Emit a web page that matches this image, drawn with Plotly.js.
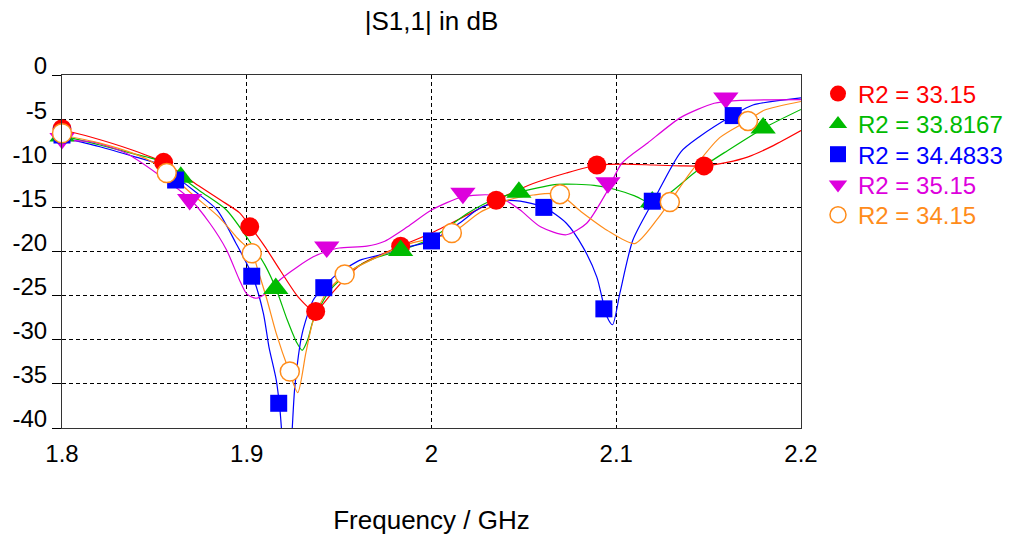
<!DOCTYPE html>
<html>
<head>
<meta charset="utf-8">
<script src="https://cdn.plot.ly/plotly-3.0.1.min.js"></script>
<style>html,body{margin:0;padding:0;background:#fff;}#chart{width:1020px;height:539px;}</style>
</head>
<body>
<div id="chart"></div>
<script>
// ---- curve data (frequency in GHz, |S11| in dB) ----
const redF = [1.800,1.815,1.838,1.855,1.875,1.886,1.896,1.902,1.910,1.918,1.928,1.937,1.945,1.954,1.963,1.972,1.983,2.000,2.018,2.035,2.055,2.073,2.090,2.105,2.120,2.135,2.148,2.160,2.171,2.185,2.200];
const redS = [-6.2,-7.0,-8.5,-9.9,-12.7,-14.2,-15.6,-17.2,-19.5,-22.1,-25.2,-26.8,-25.0,-22.9,-21.3,-20.4,-19.4,-17.9,-16.0,-14.2,-12.3,-11.1,-10.2,-10.1,-10.2,-10.3,-10.3,-9.9,-9.3,-8.0,-6.3];

const greenF = [1.800,1.820,1.840,1.851,1.864,1.875,1.889,1.903,1.910,1.916,1.922,1.927,1.930,1.933,1.936,1.945,1.957,1.970,1.983,2.000,2.020,2.035,2.047,2.068,2.088,2.100,2.110,2.120,2.130,2.144,2.160,2.180,2.200];
const greenS = [-6.9,-7.9,-9.0,-9.6,-11.5,-13.2,-15.3,-19.3,-21.6,-24.3,-27.8,-30.3,-31.2,-30.0,-27.8,-24.4,-22.1,-20.7,-19.9,-18.5,-15.6,-14.0,-13.3,-12.4,-12.5,-13.0,-13.7,-14.6,-13.2,-10.8,-8.6,-6.0,-3.9];

const blueF = [1.800,1.820,1.840,1.851,1.862,1.872,1.884,1.894,1.903,1.909,1.912,1.916,1.918,1.920,1.922,1.924,1.926,1.930,1.936,1.942,1.947,1.961,1.972,1.985,2.000,2.015,2.026,2.037,2.048,2.061,2.073,2.082,2.0895,2.095,2.098,2.102,2.109,2.120,2.135,2.145,2.163,2.174,2.200];
const blueS = [-7.1,-8.1,-9.3,-10.0,-11.6,-13.2,-15.3,-19.0,-22.7,-27.0,-30.8,-34.6,-38.0,-43.0,-45.0,-42.0,-35.4,-29.3,-25.5,-24.0,-22.9,-21.0,-20.4,-19.6,-18.8,-16.8,-15.1,-14.3,-14.3,-15.0,-16.8,-19.5,-22.9,-27.4,-28.3,-24.7,-18.7,-14.3,-8.7,-7.0,-4.6,-3.4,-2.6];

const magentaF = [1.800,1.817,1.835,1.851,1.869,1.880,1.889,1.896,1.900,1.905,1.912,1.918,1.927,1.936,1.943,1.950,1.965,1.974,1.987,2.000,2.017,2.032,2.040,2.048,2.059,2.073,2.084,2.095,2.103,2.117,2.135,2.153,2.165,2.200];
const magentaS = [-7.4,-7.6,-8.9,-11.1,-14.0,-16.8,-19.8,-23.2,-24.8,-25.3,-24.5,-23.2,-21.8,-20.6,-20.0,-19.6,-19.4,-18.9,-17.2,-15.3,-13.8,-13.6,-14.2,-15.3,-17.2,-18.1,-16.8,-13.2,-10.0,-7.7,-4.8,-3.2,-2.9,-2.8];

const orangeF = [1.800,1.820,1.840,1.851,1.857,1.871,1.885,1.895,1.903,1.906,1.911,1.916,1.923,1.9276,1.932,1.936,1.943,1.953,1.972,1.990,2.011,2.026,2.041,2.055,2.069,2.081,2.095,2.110,2.122,2.129,2.140,2.156,2.171,2.180,2.200];
const orangeS = [-6.8,-7.7,-9.0,-10.1,-11.0,-13.6,-16.1,-18.5,-20.2,-22.1,-25.5,-29.3,-33.6,-36.0,-31.5,-27.8,-24.7,-22.6,-20.5,-19.0,-17.9,-15.6,-14.2,-13.6,-13.5,-15.5,-17.6,-19.1,-16.4,-14.4,-11.1,-7.1,-5.2,-4.0,-3.0];

// ---- marker data ----
const redMF = [1.8,1.855,1.9016,1.9373,1.9833,2.035,2.0895,2.1475];
const redMS = [-6.1,-9.9,-17.2,-26.8,-19.4,-14.2,-10.2,-10.3];
const greenMF = [1.8,1.8643,1.9157,1.9833,2.0473,2.1195,2.1795];
const greenMS = [-6.9,-11.6,-24.2,-19.9,-13.3,-14.4,-6.0];
const blueMF = [1.8,1.8615,1.9027,1.9173,1.9417,2.0,2.0608,2.0933,2.1195,2.1633];
const blueMS = [-6.8,-11.9,-22.8,-37.2,-24.1,-18.8,-15.0,-26.5,-14.3,-4.6];
const magentaMF = [1.8,1.8691,1.9433,2.017,2.0955,2.1593];
const magentaMS = [-7.2,-14.1,-19.5,-13.4,-12.2,-2.6];
const orangeMF = [1.8,1.8567,1.9027,1.9233,1.953,2.011,2.0695,2.129,2.1713];
const orangeMS = [-6.6,-11.1,-20.2,-33.6,-22.6,-17.9,-13.5,-14.4,-5.2];

const seriesNames = ['R2 = 33.15','R2 = 33.8167','R2 = 34.4833','R2 = 35.15','R2 = 34.15'];
const xTickVals = [1.8,1.9,2.0,2.1,2.2];
const xTickText = ['1.8','1.9','2','2.1','2.2'];
const yTickVals = [0,-5,-10,-15,-20,-25,-30,-35,-40];
const yTickText = ['0','-5','-10','-15','-20','-25','-30','-35','-40'];

const RED='#ff0000', GREEN='#00bb00', BLUE='#0000ff', MAG='#dd00dd', ORA='#ff8c1a';
const SIZES = {'circle':19,'triangle-up':22,'triangle-down':22,'square':17};

function line(f,s,c){return {x:f,y:s,mode:'lines',type:'scatter',showlegend:false,hoverinfo:'skip',
  line:{color:c,width:1.2,shape:'spline',smoothing:0.7}};}
function mk(f,s,c,name,sym,leg,open){return {x:f,y:s,mode:'markers',type:'scatter',cliponaxis:false,
  name:'<span style="color:'+c+'">'+name+'</span>',legend:leg,
  marker:{color:open?'#ffffff':c,symbol:sym,size:SIZES[sym],line:{color:c,width:open?1.5:0}}};}

const data = [
  line(redF,redS,RED), line(greenF,greenS,GREEN), line(blueF,blueS,BLUE),
  line(magentaF,magentaS,MAG), line(orangeF,orangeS,ORA),
  mk(redMF,redMS,RED,seriesNames[0],'circle','legend',false),
  mk(greenMF,greenMS,GREEN,seriesNames[1],'triangle-up','legend2',false),
  mk(magentaMF,magentaMS,MAG,seriesNames[3],'triangle-down','legend4',false),
  mk(blueMF,blueMS,BLUE,seriesNames[2],'square','legend3',false),
  mk(orangeMF,orangeMS,ORA,seriesNames[4],'circle','legend5',true)
];

const FONT = 'Tahoma, "Liberation Sans", Arial, sans-serif';
const PLOT_TOP = 75, PLOT_H = 353;
function legendAt(row){
  const c = 94 + 30.3*row;
  return {x:1.023,xanchor:'left',y:1-(c-PLOT_TOP)/PLOT_H,yanchor:'middle',bgcolor:'rgba(0,0,0,0)',borderwidth:0,
    font:{family:FONT,size:24},itemsizing:'trace'};
}
const layout = {
  width:1020, height:539,
  margin:{l:62,r:219,t:75,b:111},
  paper_bgcolor:'#ffffff', plot_bgcolor:'#ffffff',
  font:{family:FONT,size:24,color:'#000'},
  title:{text:'|S1,1| in dB',font:{family:FONT,size:26,color:'#000'},x:0.5,xref:'paper',y:1-21/539,yref:'container',yanchor:'middle'},
  xaxis:{range:[1.8,2.2],tickvals:xTickVals,ticktext:xTickText,showgrid:true,gridcolor:'#000',griddash:'4px,3px',gridwidth:1,
    showline:true,linecolor:'#333',linewidth:1,mirror:true,zeroline:false,ticks:'',ticklabelstandoff:4,
    tickfont:{family:FONT,size:24,color:'#000'},
    title:{text:'Frequency / GHz',font:{family:FONT,size:26,color:'#000'},standoff:45}},
  yaxis:{range:[-40,0],tickvals:yTickVals,ticktext:yTickText,showgrid:true,gridcolor:'#000',griddash:'4px,3px',gridwidth:1,
    showline:true,linecolor:'#333',linewidth:1,mirror:true,zeroline:false,ticks:'outside',ticklen:9,tickcolor:'#000',
    ticklabelshift:-9,tickfont:{family:FONT,size:24,color:'#000'}},
  legend:legendAt(0), legend2:legendAt(1), legend3:legendAt(2), legend4:legendAt(3), legend5:legendAt(4),
  showlegend:true
};
Plotly.newPlot('chart',data,layout,{staticPlot:true,displayModeBar:false});
</script>
</body>
</html>
